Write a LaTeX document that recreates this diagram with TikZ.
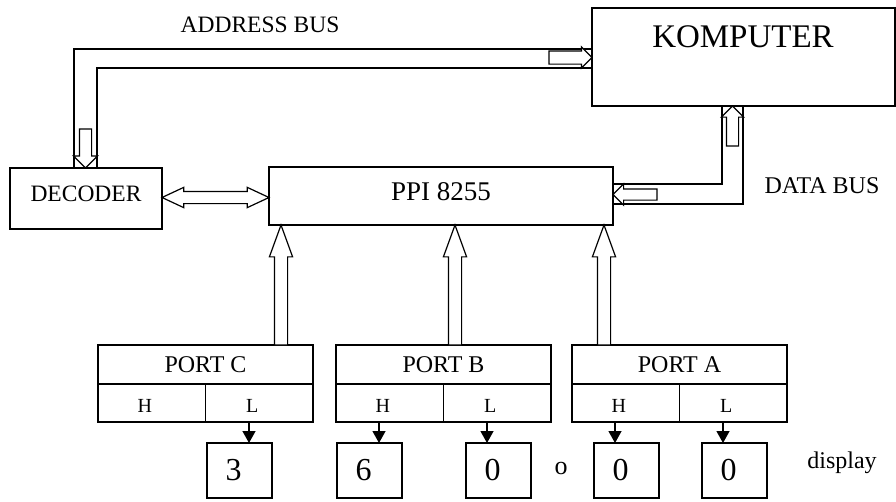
\documentclass[tikz,border=0pt]{standalone}
\usepackage{fontspec}
\setmainfont{Liberation Serif}
\usepackage{tikz}
\usetikzlibrary{arrows.meta,shapes.arrows}

\tikzset{
blok/.style={draw,line width=1.3pt,inner sep=0pt,outer sep=0pt},
busline/.style={line width=1.2pt},
busarrow/.style={single arrow,draw,fill=white,line width=1.2pt,inner xsep=0pt,inner ysep=#1,
  text height=0pt,text depth=0pt,text width=0pt,outer sep=0pt,single arrow head indent=0pt},
txt/.style={font=\fontsize{24}{24}\selectfont},
hl/.style={font=\fontsize{20}{20}\selectfont,xshift=-7pt,yshift=-3pt},
digit/.style={font=\fontsize{32}{32}\selectfont,xshift=-6pt},
tick/.style={line width=1.3pt,-{Triangle[width=13pt,length=12pt]}}
}

\begin{document}
\begin{tikzpicture}[x=1pt,y=-1pt]
\useasboundingbox (0,0) rectangle (896,501);
% blocks
\node[blok,minimum width=303pt,minimum height=98pt,anchor=north west](komp) at (592,8){};
\node[font=\fontsize{33}{33}\selectfont](kompname) at (743,37){KOMPUTER};
\node[blok,minimum width=152pt,minimum height=61pt,anchor=north west,
  label={[font=\fontsize{23.5}{24}\selectfont,yshift=5pt]center:DECODER}](dec) at (10,168){};
\node[blok,minimum width=344pt,minimum height=58pt,anchor=north west,
  label={[font=\fontsize{27}{27}\selectfont,yshift=4pt]center:PPI 8255}](ppi) at (269,167){};
% labels
\node[font=\fontsize{23.5}{24}\selectfont](addr) at (260,25){ADDRESS BUS};
\node[txt](data) at (822,186){DATA BUS};
\node[txt](disp) at (842,463){display};
\node[font=\fontsize{26}{26}\selectfont](dot) at (561,468){o};
% address bus
\draw[busline](komp.west |- 0,49)--(74,49)--(74,0 |- dec.north);
\draw[busline](komp.west |- 0,68)--(97,68)--(97,0 |- dec.north);
\node[busarrow=6pt,minimum height=43pt,single arrow head extend=4pt,anchor=tip](acomp) at (komp.west |- 0,57.5){};
\node[busarrow=5.5pt,minimum height=39pt,single arrow head extend=6pt,rotate=-90,anchor=tip](adec) at (85.5,0 |- dec.north){};
% data bus
\draw[busline](722,0 |- komp.south)--(722,184)--(ppi.east |- 0,184);
\draw[busline](743,0 |- komp.south)--(743,204)--(ppi.east |- 0,204);
\node[busarrow=5.5pt,minimum height=40pt,single arrow head extend=5pt,rotate=90,anchor=tip](dcomp) at (732.5,0 |- komp.south){};
\node[busarrow=5pt,minimum height=44pt,single arrow head extend=5pt,rotate=180,anchor=tip](dppi) at (ppi.east |- 0,194.5){};
% decoder <-> ppi
\node[double arrow,draw,fill=white,line width=1.2pt,inner xsep=0pt,inner ysep=5.5pt,
  text height=0pt,text depth=0pt,text width=0pt,outer sep=0pt,
  minimum height=107pt,double arrow head extend=4pt,double arrow tip angle=50](decppi) at (215.5,197.5){};
% ports
\foreach \p/\x/\a in {C/98/281,B/336/455,A/572/604}{
  \node[blok,txt,minimum width=215pt,minimum height=39pt,anchor=north west](port\p) at (\x,345){PORT \p};
  \node[blok,minimum width=107.5pt,minimum height=38pt,anchor=north west,label={[hl]center:H}](port\p h) at (port\p.south west){};
  \node[blok,minimum width=107.5pt,minimum height=38pt,anchor=north east,label={[hl]center:L}](port\p l) at (port\p.south east){};
  \node[busarrow=6pt,minimum height=120pt,single arrow head extend=5pt,single arrow tip angle=40,rotate=90,anchor=tip](up\p) at (\a,0 |- ppi.south){};
}
% displays
\foreach \n/\x/\d in {d1/207/3,d2/337/6,d3/466/0,d4/594/0,d5/702/0}
  \node[blok,minimum width=65pt,minimum height=55pt,anchor=north west,label={[digit]center:\d}](\n) at (\x,443){};
\draw[tick](249,0 |- portCl.south)--(249,0 |- d1.north);
\draw[tick](379,0 |- portBh.south)--(379,0 |- d2.north);
\draw[tick](487,0 |- portBl.south)--(487,0 |- d3.north);
\draw[tick](615,0 |- portAh.south)--(615,0 |- d4.north);
\draw[tick](723,0 |- portAl.south)--(723,0 |- d5.north);
\end{tikzpicture}
\end{document}
